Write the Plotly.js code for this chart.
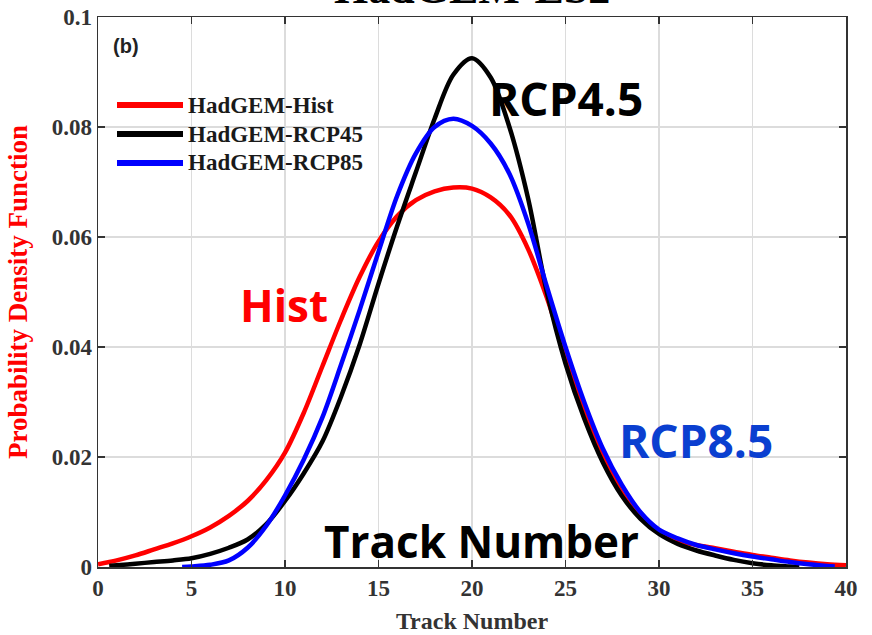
<!DOCTYPE html>
<html>
<head>
<meta charset="utf-8">
<script src="https://cdn.plot.ly/plotly-3.0.1.min.js"></script>
<style>html,body{margin:0;padding:0;background:#fff;}#chart{width:872px;height:635px;}</style>
</head>
<body>
<div id="chart"></div>
<script>
// ---- Data ----
const histX = [0,1,2,3,4,5,6,7,8,9,10,11,12,13,14,15,16,17,18,19,20,21,22,23,24,25,26,27,28,29,30,31,32,33,34,35,36,37,38,39,40];
const histY = [0.0005,0.0012,0.0021,0.0032,0.0043,0.0056,0.0072,0.0093,0.0120,0.0158,0.0208,0.0280,0.0365,0.0450,0.0528,0.0592,0.0638,0.0667,0.0683,0.0690,0.0688,0.0672,0.0640,0.0578,0.0490,0.0385,0.0290,0.0205,0.0135,0.0090,0.0062,0.0048,0.0040,0.0034,0.0028,0.0022,0.0017,0.0012,0.0008,0.0005,0.0003];

const rcp45X = [0.6,1,2,3,4,5,6,7,8,9,10,11,12,13,14,15,16,17,18,19,20,21,22,23,24,25,26,27,28,29,30,31,32,33,34,35,36,37,37.5];
const rcp45Y = [0.0002,0.0003,0.0006,0.0009,0.0012,0.0016,0.0024,0.0035,0.0050,0.0078,0.0120,0.0170,0.0228,0.0310,0.0405,0.0515,0.0620,0.0718,0.0815,0.0895,0.0925,0.0890,0.0800,0.0670,0.0500,0.0370,0.0270,0.0190,0.0130,0.0088,0.0060,0.0042,0.0030,0.0021,0.0013,0.0007,0.0003,0.0001,0.0];

const rcp85X = [4.5,5,6,7,8,9,10,11,12,13,14,15,16,17,18,19,20,21,22,23,24,25,26,27,28,29,30,31,32,33,34,35,36,37,38,39,39.4];
const rcp85Y = [0.0,0.0001,0.0004,0.0012,0.0035,0.0075,0.0130,0.0195,0.0272,0.0368,0.0468,0.0573,0.0675,0.0752,0.0800,0.0815,0.0802,0.0770,0.0715,0.0625,0.0510,0.0400,0.0300,0.0215,0.0150,0.0100,0.0068,0.0052,0.0040,0.0032,0.0025,0.0019,0.0014,0.0009,0.0005,0.0002,0.0001];

const seriesNames = ["HadGEM-Hist","HadGEM-RCP45","HadGEM-RCP85"];
const seriesColors = ["#ff0000","#000000","#0000ff"];
const xTickVals = [0,5,10,15,20,25,30,35,40];
const yTickVals = [0,0.02,0.04,0.06,0.08,0.1];
const yTickText = ["0","0.02","0.04","0.06","0.08","0.1"];

const serif = "Liberation Serif, Times New Roman, serif";
const sans = "Open Sans, Noto Sans, sans-serif";

const traces = [
  {x: histX, y: histY, name: seriesNames[0], color: seriesColors[0]},
  {x: rcp45X, y: rcp45Y, name: seriesNames[1], color: seriesColors[1]},
  {x: rcp85X, y: rcp85Y, name: seriesNames[2], color: seriesColors[2]}
].map(s => ({
  type: "scatter", mode: "lines", x: s.x, y: s.y, name: s.name,
  line: {color: s.color, width: 4.5, shape: "spline", smoothing: 0.9},
  showlegend: false, hoverinfo: "skip"
}));

// helpers: pixel position of the reference -> paper coords
const px = v => (v - 98) / 748;
const py = v => 1 - (v - 17) / 550;

// manual legend (long line samples like the reference)
const legShapes = [];
const legAnn = [];
const legRowsPx = [105, 134, 163];
seriesNames.forEach((n, i) => {
  const yp = py(legRowsPx[i]);
  legShapes.push({type: "line", xref: "paper", yref: "paper",
    x0: px(117), x1: px(183), y0: yp, y1: yp,
    line: {color: seriesColors[i], width: 6}});
  legAnn.push({xref: "paper", yref: "paper", x: px(186), y: yp,
    xanchor: "left", yanchor: "middle", showarrow: false, text: n,
    font: {family: serif, size: 23, color: "#1a1a1a", weight: "bold"}});
});

const lab = (x, y, text, font) => ({xref: "paper", yref: "paper", x: px(x), y: py(y),
  xanchor: "center", yanchor: "middle", showarrow: false, text: text, font: font});

const annotations = legAnn.concat([
  {xref: "paper", yref: "paper", x: 0.5, y: 1, xanchor: "center", yanchor: "bottom", yshift: 2,
   showarrow: false, text: "HadGEM-ES2",
   font: {family: serif, size: 44, color: "#000", weight: "bold"}},
  lab(126, 46, "(b)", {family: "Liberation Sans, Arial, sans-serif", size: 20, color: "#222", weight: "bold"}),
  lab(284, 305, "Hist", {family: sans, size: 44, color: "#ff0000", weight: "bold"}),
  lab(566, 98, "RCP4.5", {family: sans, size: 46, color: "#000", weight: "bold"}),
  lab(696, 440, "RCP8.5", {family: sans, size: 46, color: "#0a3fd0", weight: "bold"}),
  lab(481, 541, "Track Number", {family: sans, size: 44, color: "#000", weight: "bold"})
]);

const layout = {
  width: 872, height: 635,
  margin: {l: 98, r: 26, t: 17, b: 68},
  paper_bgcolor: "#fff", plot_bgcolor: "#fff",
  showlegend: false,
  xaxis: {
    range: [0, 40], tickvals: xTickVals, ticks: "inside", ticklen: 7, tickwidth: 1.5,
    tickcolor: "#333", showline: true, linecolor: "#333", linewidth: 1.5, mirror: "ticks",
    showgrid: true, gridcolor: "#dcdcdc", gridwidth: 1.5, zeroline: false,
    tickfont: {family: serif, size: 23, color: "#333", weight: "bold"},
    title: {text: "Track Number", standoff: 12, font: {family: serif, size: 24, color: "#333", weight: "bold"}}
  },
  yaxis: {
    range: [0, 0.1], tickvals: yTickVals, ticktext: yTickText, ticks: "inside", ticklen: 7, tickwidth: 1.5,
    tickcolor: "#333", showline: true, linecolor: "#333", linewidth: 1.5, mirror: "ticks",
    showgrid: true, gridcolor: "#dcdcdc", gridwidth: 1.5, zeroline: false,
    tickfont: {family: serif, size: 23, color: "#333", weight: "bold"},
    title: {text: "Probability Density Function", standoff: 16, font: {family: serif, size: 27, color: "#ff0000", weight: "bold"}}
  },
  shapes: legShapes,
  annotations: annotations
};

Plotly.newPlot("chart", traces, layout, {displayModeBar: false, staticPlot: true});
</script>
</body>
</html>
